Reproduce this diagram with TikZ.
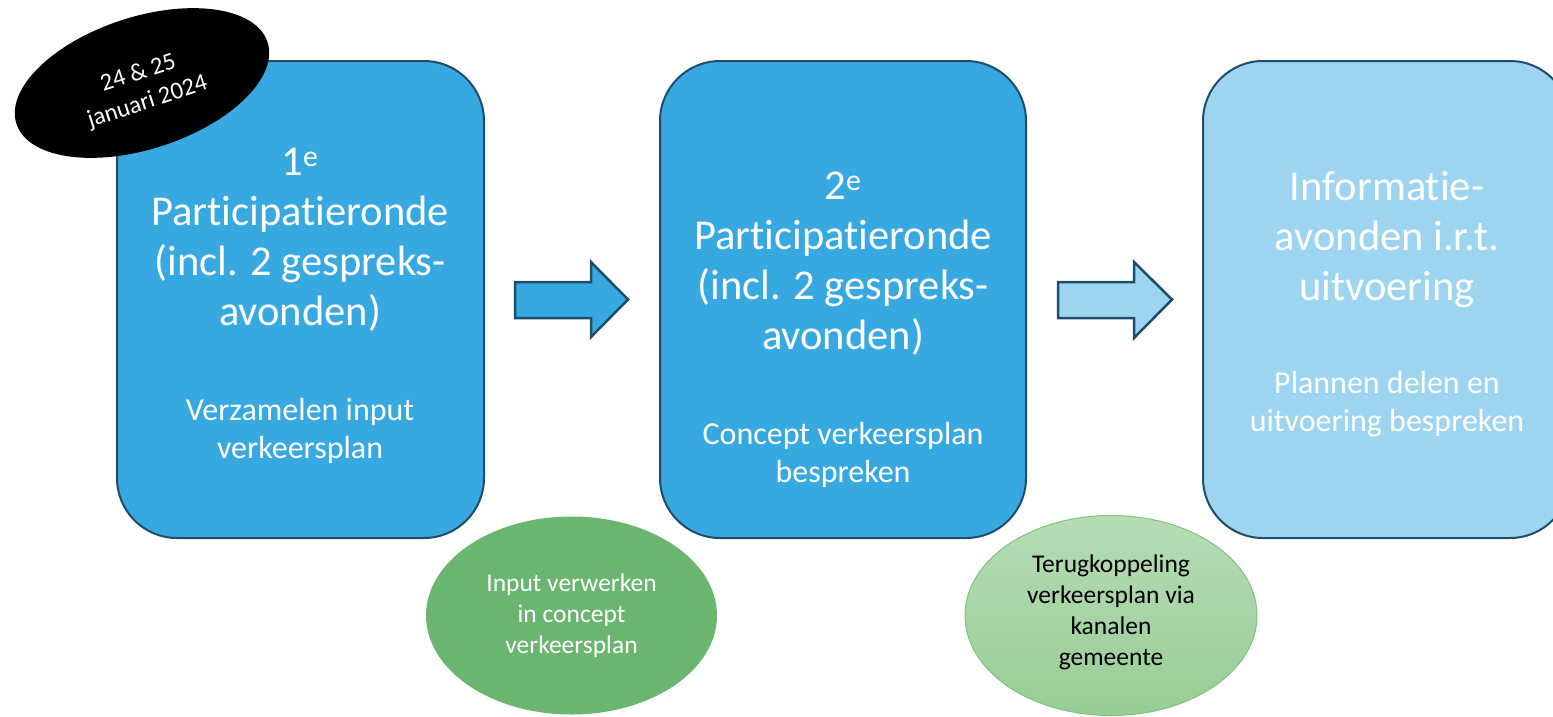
\documentclass[tikz,border=0pt]{standalone}
\usepackage{fontspec}
\setmainfont{Carlito}[Ligatures=NoCommon]
\usetikzlibrary{shapes.geometric}
\definecolor{boxblue}{HTML}{38A8E0}
\definecolor{lightblue}{HTML}{9DD5F0}
\definecolor{edgeblue}{HTML}{1E4D6B}
\definecolor{greenA}{HTML}{6AB670}
\definecolor{greenTop}{HTML}{B7DCB5}
\definecolor{greenBot}{HTML}{98CC96}
\definecolor{greenEdge}{HTML}{7EC27E}
\tikzset{
  stagebox/.style={draw=edgeblue, line width=2pt, rounded corners=60pt},
  blockarrow/.style={draw=edgeblue, line width=2.5pt, line join=miter},
  titletext/.style={text=white, align=center, font=\fontsize{42.5}{50}\selectfont, inner sep=0pt},
  subtext/.style={text=white, align=center, font=\fontsize{32}{37.5}\selectfont, inner sep=0pt},
  bubbletext/.style={align=center, font=\fontsize{25.5}{31}\selectfont, inner sep=0pt},
}
\begin{document}
\begin{tikzpicture}[x=1pt,y=-1pt]
\useasboundingbox (0,0) rectangle (1553,716);
\begin{scope}
\clip (0,0) rectangle (1553,716);
% stage boxes
\draw[stagebox, fill=boxblue] (117,61) rectangle (484,538);
\draw[stagebox, fill=boxblue] (660,61) rectangle (1026,538);
\draw[stagebox, fill=lightblue] (1203,61) rectangle (1570,538);
% block arrows
\draw[blockarrow, fill=boxblue] (515,282) -- (591,282) -- (591,262) -- (628,299.5) -- (591,337) -- (591,318) -- (515,318) -- cycle;
\draw[blockarrow, fill=lightblue] (1058,282) -- (1134,282) -- (1134,262) -- (1172,299.5) -- (1134,338) -- (1134,318) -- (1058,318) -- cycle;
% bubbles
\node[ellipse, fill=greenA, minimum width=291pt, minimum height=198pt, inner sep=0pt] (b1) at (571.5,615.5) {};
\node[ellipse, draw=greenEdge, line width=1pt, top color=greenTop, bottom color=greenBot, minimum width=292pt, minimum height=200pt, inner sep=0pt] (b2) at (1111,615.5) {};
% date badge
\node[ellipse, fill=black, minimum width=264pt, minimum height=132pt, inner sep=0pt, rotate=18] (date) at (142,83) {};
\end{scope}
% texts
\node[titletext] (t1) at (300,240) {1\textsuperscript{e}\\Participatieronde\\(incl. 2 gespreks-\\avonden)};
\node[subtext] (s1) at (300,431) {Verzamelen input\\verkeersplan};
\node[titletext] (t2) at (843,264) {2\textsuperscript{e}\\Participatieronde\\(incl. 2 gespreks-\\avonden)};
\node[subtext] (s2) at (843,455) {Concept verkeersplan\\bespreken};
\node[titletext] (t3) at (1387,240) {Informatie-\\avonden i.r.t.\\uitvoering};
\node[subtext] (s3) at (1387,404) {Plannen delen en\\uitvoering bespreken};
\node[bubbletext, text=white] (bt1) at (b1.center) {Input verwerken\\in concept\\verkeersplan};
\node[bubbletext, text=black] (bt2) at ([yshift=3pt]b2.center) {Terugkoppeling\\verkeersplan via\\kanalen\\gemeente};
\node[bubbletext, text=white, rotate=18, font=\fontsize{24.5}{30}\selectfont] (dt) at ([shift={(1,5)}]date.center) {24 \& 25\\januari 2024};
\end{tikzpicture}
\end{document}
